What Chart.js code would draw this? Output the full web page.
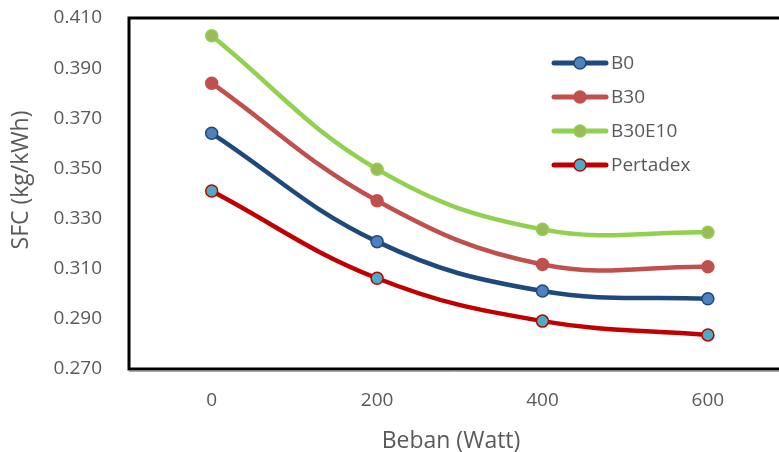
<!DOCTYPE html>
<html lang="id">
  <head>
    <meta charset="UTF-8" />
    <title>SFC vs Beban</title>
    <script src="https://cdn.jsdelivr.net/npm/chart.js"></script>
    <style>
      html, body { margin: 0; padding: 0; background: #fff; overflow: hidden; }
    </style>
  </head>
  <body>
    <canvas id="sfcChart" width="779" height="452"></canvas>

    <script>
      // Data
      const beban = [0, 200, 400, 600];
      const sfcB0 = [0.3640, 0.3208, 0.3011, 0.2980];
      const sfcB30 = [0.3840, 0.3371, 0.3117, 0.3108];
      const sfcB30E10 = [0.4029, 0.3497, 0.3257, 0.3245];
      const sfcPertadex = [0.3410, 0.3062, 0.2891, 0.2836];
      const xTicks = [0, 200, 400, 600];
      const yTicks = [0.27, 0.29, 0.31, 0.33, 0.35, 0.37, 0.39, 0.41];

      const textColor = "#595959";
      const fontName = "'Open Sans', sans-serif";

      function toPoints(values) {
        return values.map((v, i) => ({ x: beban[i], y: v }));
      }

      function series(label, values, line, fill, edge) {
        return {
          label: label,
          data: toPoints(values),
          borderColor: line,
          borderWidth: 4.5,
          pointRadius: 6,
          pointBackgroundColor: fill,
          pointBorderColor: edge,
          pointBorderWidth: 1.5,
          tension: 0.4,
        };
      }

      // no extra room for overflowing tick labels
      function noPadding(s) {
        s.paddingTop = 0;
        s.paddingBottom = 0;
        s.paddingLeft = 0;
        s.paddingRight = 0;
      }

      // Frame, axis titles and legend drawn on top of the plot
      const decorations = {
        id: "decorations",
        afterDraw(chart) {
          const c = chart.ctx;
          const a = chart.chartArea;
          c.save();
          // plot frame
          c.strokeStyle = "#000";
          c.lineWidth = 3;
          c.beginPath();
          c.moveTo(a.right + 2, a.top);
          c.lineTo(a.left, a.top);
          c.lineTo(a.left, a.bottom);
          c.lineTo(a.right + 2, a.bottom);
          c.stroke();
          c.strokeStyle = "#aaa";
          c.lineWidth = 1;
          c.beginPath();
          c.moveTo(a.left, a.bottom + 2.5);
          c.lineTo(a.right + 2, a.bottom + 2.5);
          c.stroke();

          // axis titles
          c.fillStyle = textColor;
          c.font = "23px " + fontName;
          c.textAlign = "center";
          c.textBaseline = "alphabetic";
          c.fillText("Beban (Watt)", 451, 448);
          c.translate(28, 180);
          c.rotate(-Math.PI / 2);
          c.fillText("SFC (kg/kWh)", 0, 0);
          c.setTransform(1, 0, 0, 1, 0, 0);

          // legend
          c.font = "19px " + fontName;
          c.textAlign = "left";
          c.textBaseline = "middle";
          chart.data.datasets.forEach((ds, i) => {
            const y = 63 + i * 34;
            c.strokeStyle = ds.borderColor;
            c.lineWidth = 5;
            c.lineCap = "round";
            c.beginPath();
            c.moveTo(554, y);
            c.lineTo(606, y);
            c.stroke();
            c.beginPath();
            c.arc(580, y, 6, 0, Math.PI * 2);
            c.fillStyle = ds.pointBackgroundColor;
            c.fill();
            c.lineWidth = 1.5;
            c.strokeStyle = ds.pointBorderColor;
            c.stroke();
            c.fillStyle = textColor;
            c.fillText(ds.label, 611, y + 1);
          });
          c.restore();
        },
      };

      const ctx = document.getElementById("sfcChart").getContext("2d");
      const sfcChart = new Chart(ctx, {
        type: "line",
        data: {
          datasets: [
            series("B0", sfcB0, "#1F497D", "#4F81BD", "#1F497D"),
            series("B30", sfcB30, "#C0504D", "#C0504D", "#C0504D"),
            series("B30E10", sfcB30E10, "#92D050", "#9BBB59", "#92D050"),
            series("Pertadex", sfcPertadex, "#C00000", "#4BACC6", "#C00000"),
          ],
        },
        options: {
          responsive: false,
          animation: false,
          layout: {
            autoPadding: false,
            padding: { top: 18, right: 0, left: 0, bottom: 0 },
          },
          plugins: {
            legend: { display: false },
            tooltip: { enabled: false },
          },
          scales: {
            x: {
              type: "linear",
              min: -100,
              max: 686,
              grid: { display: false, drawTicks: false },
              border: { display: false },
              afterBuildTicks: (s) => {
                s.ticks = xTicks.map((v) => ({ value: v }));
              },
              afterFit: (s) => {
                s.height = 83;
                noPadding(s);
              },
              ticks: {
                color: textColor,
                font: { family: fontName, size: 19 },
                padding: 20,
                maxRotation: 0,
              },
            },
            y: {
              min: 0.27,
              max: 0.41,
              grid: { display: false, drawTicks: false },
              border: { display: false },
              afterBuildTicks: (s) => {
                s.ticks = yTicks.map((v) => ({ value: v }));
              },
              afterFit: (s) => {
                s.width = 129;
                noPadding(s);
              },
              ticks: {
                color: textColor,
                font: { family: fontName, size: 19 },
                padding: 27,
                callback: (v) => v.toFixed(3),
              },
            },
          },
        },
        plugins: [decorations],
      });
    </script>
  </body>
</html>
